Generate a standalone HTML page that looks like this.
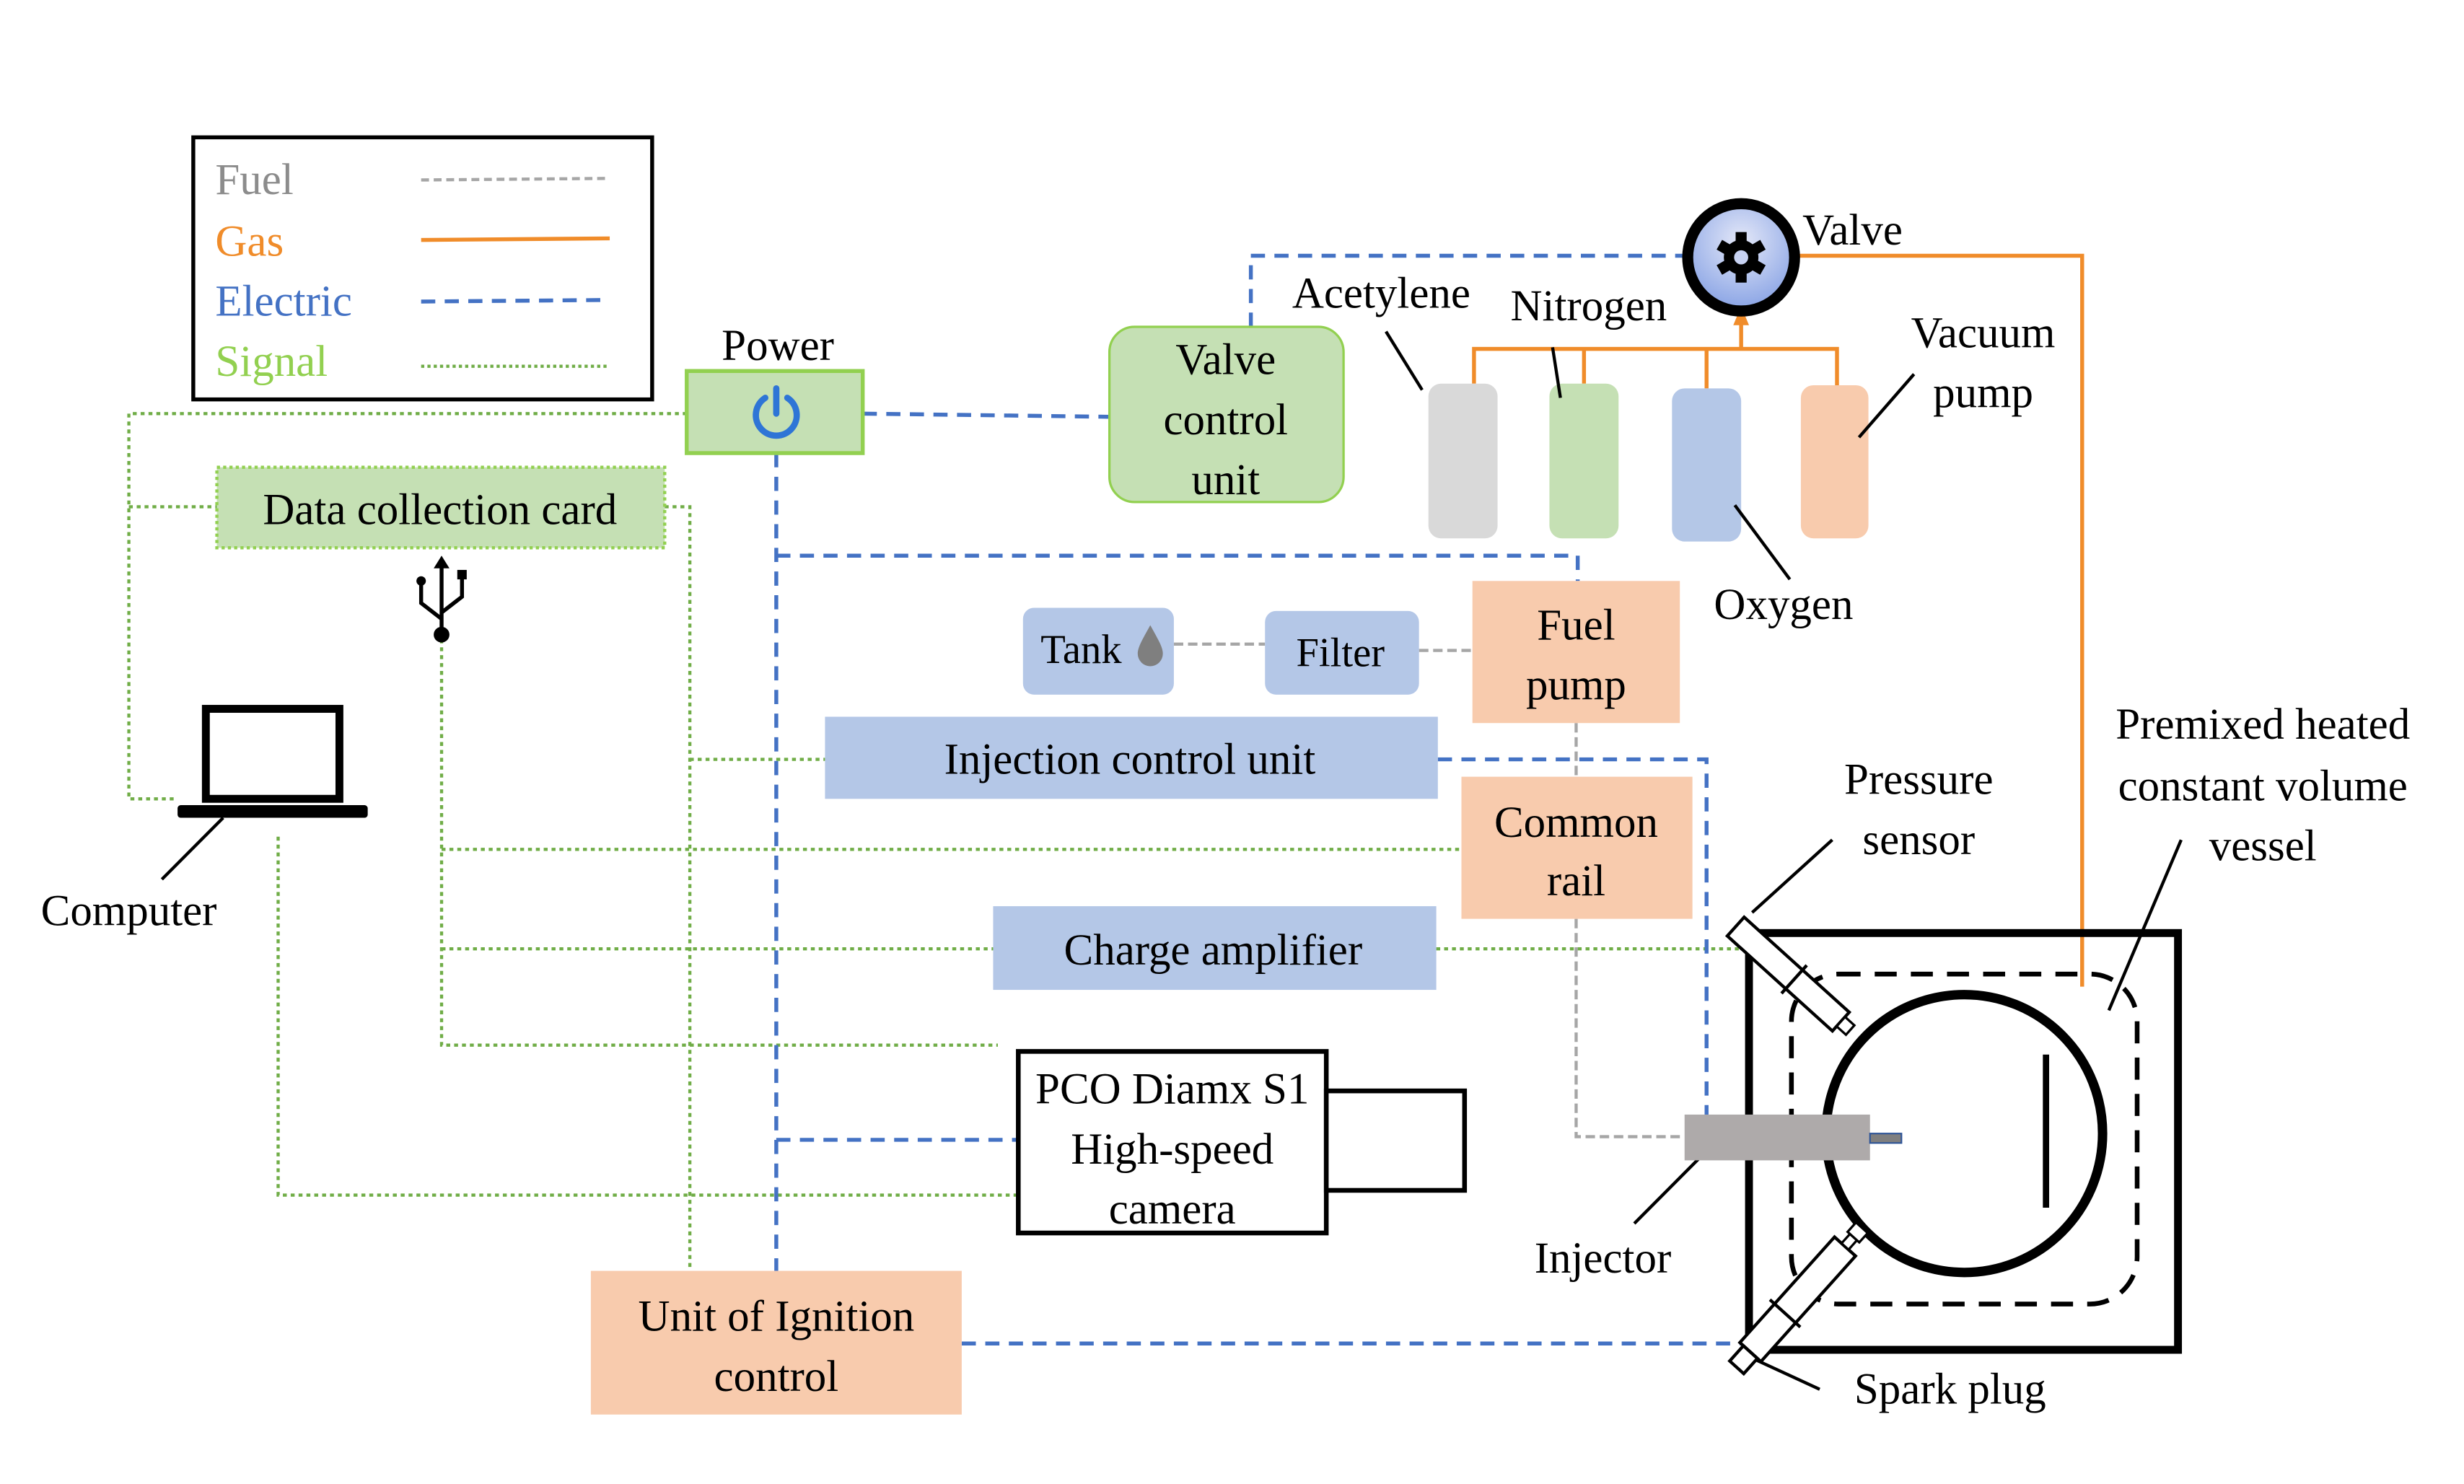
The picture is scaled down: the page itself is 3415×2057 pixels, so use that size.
<!DOCTYPE html>
<html><head><meta charset="utf-8"><style>html,body{margin:0;padding:0;background:#fff}svg{display:block}svg text{font-family:"Liberation Serif","Times New Roman",serif}</style></head>
<body>
<svg width="3415" height="2057" viewBox="0 0 1568 940" preserveAspectRatio="none" xmlns="http://www.w3.org/2000/svg" font-family="Liberation Serif" font-size="28">
<defs>
<radialGradient id="vg" cx="50%" cy="35%" r="60%"><stop offset="0" stop-color="#e4e8f8"/><stop offset="1" stop-color="#8fa8e6"/></radialGradient>
</defs>
<!-- Legend -->
<rect x="123" y="87" width="292" height="166" fill="#fff" stroke="#000" stroke-width="2.5"/>
<text x="137" y="123" fill="#8c8c8c">Fuel</text>
<text x="137" y="162" fill="#f08c2a">Gas</text>
<text x="137" y="200" fill="#4472c4">Electric</text>
<text x="137" y="238" fill="#92d050">Signal</text>
<line x1="268" y1="114" x2="388" y2="113" stroke="#a6a6a6" stroke-width="2" stroke-dasharray="5 3"/>
<line x1="268" y1="152" x2="388" y2="151" stroke="#f08c2a" stroke-width="2.5"/>
<line x1="268" y1="191" x2="388" y2="190" stroke="#4472c4" stroke-width="2.5" stroke-dasharray="9 6"/>
<line x1="268" y1="232" x2="388" y2="232" stroke="#70ad47" stroke-width="2" stroke-dasharray="2 2"/>

<!-- Signal lines -->
<g stroke="#70ad47" stroke-width="2" stroke-dasharray="2.5 2.5" fill="none">
<polyline points="437,262 82,262 82,506 113,506"/>
<line x1="82" y1="321" x2="138" y2="321"/>
<polyline points="423,321 439,321 439,805"/>
<line x1="439" y1="481" x2="525" y2="481"/>
<polyline points="281,405 281,662 635,662"/>
<line x1="281" y1="538" x2="930" y2="538"/>
<line x1="281" y1="601" x2="632" y2="601"/>
<line x1="914" y1="601" x2="1113" y2="601"/>
<polyline points="177,530 177,757 648,757"/>
</g>
<!-- Electric lines -->
<g stroke="#4472c4" stroke-width="2.5" stroke-dasharray="9 6" fill="none">
<polyline points="796,207 796,162 1072,162"/>
<line x1="549" y1="262" x2="706" y2="264"/>
<line x1="494" y1="287" x2="494" y2="805"/>
<polyline points="494,352 1004,352 1004,368"/>
<line x1="494" y1="722" x2="648" y2="722"/>
<polyline points="915,481 1086,481 1086,706"/>
<line x1="612" y1="851" x2="1110" y2="851"/>
</g>
<!-- Fuel lines -->
<g stroke="#a6a6a6" stroke-width="2" stroke-dasharray="6 3" fill="none">
<line x1="747" y1="408" x2="805" y2="408"/>
<line x1="903" y1="412" x2="937" y2="412"/>
<line x1="1003" y1="458" x2="1003" y2="492"/>
<polyline points="1003,582 1003,720 1072,720"/>
</g>
<!-- Gas lines -->
<g stroke="#f08c2a" stroke-width="2.5" fill="none">
<polyline points="938,243 938,221 1169,221 1169,244"/>
<line x1="1008" y1="221" x2="1008" y2="243"/>
<line x1="1086" y1="221" x2="1086" y2="246"/>
<line x1="1108" y1="221" x2="1108" y2="205"/>
<polyline points="1145,162 1325,162 1325,625"/>
</g>
<polygon points="1103,206 1113,206 1108,194" fill="#f08c2a"/>

<!-- Power -->
<text x="495" y="228" text-anchor="middle">Power</text>
<rect x="437" y="235" width="112" height="52" fill="#c5e0b4" stroke="#92d050" stroke-width="2.5"/>
<path d="M487,252 A13,13 0 1 0 501,252" fill="none" stroke="#2e75d6" stroke-width="4" stroke-linecap="round"/>
<line x1="494" y1="246" x2="494" y2="262" stroke="#2e75d6" stroke-width="4" stroke-linecap="round"/>

<!-- Valve control unit -->
<rect x="706" y="207" width="149" height="111" rx="16" fill="#c5e0b4" stroke="#92d050" stroke-width="1.5"/>
<text x="780" y="237" text-anchor="middle">Valve</text>
<text x="780" y="275" text-anchor="middle">control</text>
<text x="780" y="313" text-anchor="middle">unit</text>

<!-- Data collection card -->
<rect x="138" y="296" width="285" height="51" fill="#c5e0b4" stroke="#92d050" stroke-width="2" stroke-dasharray="2 2"/>
<text x="280" y="332" text-anchor="middle">Data collection card</text>

<!-- USB -->
<g stroke="#000" stroke-width="2.5" fill="none">
<line x1="281" y1="358" x2="281" y2="400"/>
<polyline points="268,370 268,382 281,392"/>
<polyline points="294,366 294,378 281,388"/>
</g>
<polygon points="276,360 286,360 281,352" fill="#000"/>
<circle cx="268" cy="368" r="3" fill="#000"/>
<rect x="291" y="361" width="6" height="6" fill="#000"/>
<circle cx="281" cy="402" r="5" fill="#000"/>

<!-- Laptop -->
<rect x="131" y="449" width="85" height="57" fill="#fff" stroke="#000" stroke-width="5"/>
<rect x="113" y="510" width="121" height="8" rx="2" fill="#000"/>
<line x1="103" y1="557" x2="142" y2="518" stroke="#000" stroke-width="2"/>
<text x="82" y="586" text-anchor="middle">Computer</text>

<!-- Tank / Filter -->
<rect x="651" y="385" width="96" height="55" rx="7" fill="#b4c7e7"/>
<text x="688" y="420" text-anchor="middle" font-size="26">Tank</text>
<path d="M732,396 C727,405 724,410 724,414 A8,8 0 0 0 740,414 C740,410 737,405 732,396 Z" fill="#7f7f7f"/>
<rect x="805" y="387" width="98" height="53" rx="7" fill="#b4c7e7"/>
<text x="853" y="422" text-anchor="middle" font-size="26">Filter</text>

<!-- Fuel pump -->
<rect x="937" y="368" width="132" height="90" fill="#f8cbad"/>
<text x="1003" y="405" text-anchor="middle">Fuel</text>
<text x="1003" y="443" text-anchor="middle">pump</text>

<!-- ICU -->
<rect x="525" y="454" width="390" height="52" fill="#b4c7e7"/>
<text x="719" y="490" text-anchor="middle">Injection control unit</text>

<!-- Common rail -->
<rect x="930" y="492" width="147" height="90" fill="#f8cbad"/>
<text x="1003" y="530" text-anchor="middle">Common</text>
<text x="1003" y="567" text-anchor="middle">rail</text>

<!-- Charge amplifier -->
<rect x="632" y="574" width="282" height="53" fill="#b4c7e7"/>
<text x="772" y="611" text-anchor="middle">Charge amplifier</text>

<!-- Camera -->
<rect x="648" y="666" width="196" height="115" fill="#fff" stroke="#000" stroke-width="3"/>
<rect x="844" y="691" width="88" height="63" fill="#fff" stroke="#000" stroke-width="3"/>
<text x="746" y="699" text-anchor="middle">PCO Diamx S1</text>
<text x="746" y="737" text-anchor="middle">High-speed</text>
<text x="746" y="775" text-anchor="middle">camera</text>

<!-- Ignition -->
<rect x="376" y="805" width="236" height="91" fill="#f8cbad"/>
<text x="494" y="843" text-anchor="middle">Unit of Ignition</text>
<text x="494" y="881" text-anchor="middle">control</text>

<!-- Cylinders -->
<rect x="909" y="243" width="44" height="98" rx="8" fill="#d9d9d9"/>
<rect x="986" y="243" width="44" height="98" rx="8" fill="#c5e0b4"/>
<rect x="1064" y="246" width="44" height="97" rx="8" fill="#b4c7e7"/>
<rect x="1146" y="244" width="43" height="97" rx="8" fill="#f8cbad"/>

<!-- Valve -->
<circle cx="1108" cy="163" r="34" fill="url(#vg)" stroke="#000" stroke-width="7"/>
<g transform="translate(1108,163)" fill="#000">
<circle r="11"/>
<rect x="-3.5" y="-16" width="7" height="32"/>
<rect x="-3.5" y="-16" width="7" height="32" transform="rotate(60)"/>
<rect x="-3.5" y="-16" width="7" height="32" transform="rotate(120)"/>
<circle r="4.5" fill="#c8d2f2"/>
</g>
<text x="1147" y="155">Valve</text>

<!-- labels -->
<text x="879" y="195" text-anchor="middle">Acetylene</text>
<line x1="882" y1="210" x2="905" y2="247" stroke="#000" stroke-width="2"/>
<text x="1011" y="203" text-anchor="middle">Nitrogen</text>
<line x1="988" y1="220" x2="993" y2="252" stroke="#000" stroke-width="2"/>
<text x="1262" y="220" text-anchor="middle">Vacuum</text>
<text x="1262" y="258" text-anchor="middle">pump</text>
<line x1="1218" y1="237" x2="1183" y2="277" stroke="#000" stroke-width="2"/>
<text x="1135" y="392" text-anchor="middle">Oxygen</text>
<line x1="1104" y1="320" x2="1139" y2="367" stroke="#000" stroke-width="2"/>
<text x="1440" y="468" text-anchor="middle">Premixed heated</text>
<text x="1440" y="507" text-anchor="middle">constant volume</text>
<text x="1440" y="545" text-anchor="middle">vessel</text>
<line x1="1388" y1="532" x2="1342" y2="640" stroke="#000" stroke-width="2"/>
<text x="1221" y="503" text-anchor="middle">Pressure</text>
<text x="1221" y="541" text-anchor="middle">sensor</text>
<line x1="1166" y1="532" x2="1115" y2="578" stroke="#000" stroke-width="2"/>
<text x="1020" y="806" text-anchor="middle">Injector</text>
<line x1="1040" y1="775" x2="1085" y2="730" stroke="#000" stroke-width="2"/>
<text x="1241" y="889" text-anchor="middle">Spark plug</text>
<line x1="1158" y1="880" x2="1110" y2="858" stroke="#000" stroke-width="2"/>

<!-- Vessel -->
<rect x="1113" y="591" width="273" height="264" fill="none" stroke="#000" stroke-width="5"/>
<rect x="1140" y="617" width="220" height="209" rx="30" fill="none" stroke="#000" stroke-width="3" stroke-dasharray="14 9"/>
<circle cx="1250" cy="718" r="88" fill="none" stroke="#000" stroke-width="6"/>
<line x1="1302" y1="668" x2="1302" y2="765" stroke="#000" stroke-width="4"/>
<!-- injector -->
<rect x="1072" y="706" width="118" height="29" fill="#aeaaaa"/>
<rect x="1190" y="718" width="20" height="6" fill="#7f7f7f" stroke="#2f5597" stroke-width="1"/>
<!-- pressure sensor -->
<g transform="translate(1138,617) rotate(42)">
<rect x="-45" y="-8" width="90" height="16" fill="#fff" stroke="#000" stroke-width="2"/>
<rect x="45" y="-4" width="8" height="8" fill="#fff" stroke="#000" stroke-width="1.5"/>
<line x1="5" y1="-12" x2="5" y2="12" stroke="#000" stroke-width="2"/>
</g>
<!-- spark plug -->
<g transform="translate(1144,823) rotate(-48)">
<rect x="-45" y="-9" width="90" height="18" fill="#fff" stroke="#000" stroke-width="2"/>
<rect x="-58" y="-6" width="13" height="12" fill="#fff" stroke="#000" stroke-width="2"/>
<rect x="45" y="-3" width="8" height="6" fill="#fff" stroke="#000" stroke-width="1.5"/>
<rect x="53" y="-5" width="8" height="10" fill="#fff" stroke="#000" stroke-width="1.5"/>
<line x1="-12" y1="-13" x2="-12" y2="13" stroke="#000" stroke-width="2"/>
</g>
</svg>
</body></html>
